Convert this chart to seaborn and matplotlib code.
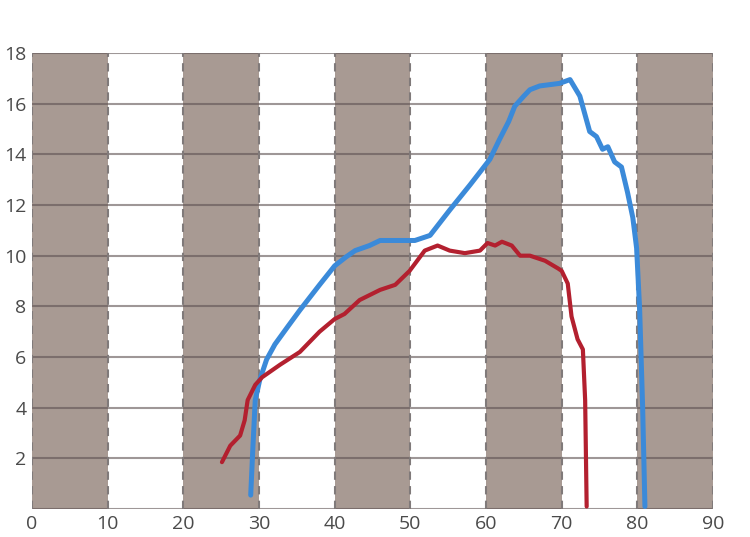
import numpy as np
import pandas as pd
import matplotlib
matplotlib.use("Agg")
import matplotlib.pyplot as plt
import seaborn as sns

# blue curve points
blue_x = [28.9, 29.2, 29.5, 30.1, 31.0, 32.1, 33.8, 35.4, 38.0, 40.0, 41.5, 42.7, 44.6,
          46.0, 48.0, 50.6, 52.6, 55.2, 57.9, 60.5, 61.8, 63.0, 63.8, 65.0, 65.8, 67.1, 69.7,
          71.1, 72.4, 73.7, 74.6, 75.4, 76.1, 77.0, 77.9, 78.7, 79.4, 79.9, 80.3, 80.7, 81.0]
blue_y = [0.55, 2.5, 4.3, 5.1, 5.9, 6.5, 7.2, 7.85, 8.85, 9.6, 9.95, 10.2, 10.4,
          10.6, 10.6, 10.6, 10.8, 11.8, 12.8, 13.8, 14.6, 15.3, 15.9, 16.3, 16.55, 16.7, 16.8,
          16.95, 16.3, 14.9, 14.7, 14.2, 14.3, 13.7, 13.5, 12.5, 11.5, 10.3, 7.9, 4.0, 0.1]

# red curve points
red_x = [25.1, 26.2, 27.5, 28.1, 28.5, 29.5, 30.4, 32.8, 35.4, 38.0, 40.0, 41.3, 43.3,
         46.0, 48.0, 49.9, 51.9, 53.6, 55.2, 57.2, 59.2, 60.2, 61.2, 62.1, 63.4, 64.5,
         65.8, 67.8, 69.5, 70.0, 70.8, 71.3, 72.1, 72.8, 73.1, 73.3]
red_y = [1.85, 2.5, 2.9, 3.5, 4.3, 4.9, 5.2, 5.7, 6.2, 7.0, 7.5, 7.7, 8.25,
         8.65, 8.85, 9.4, 10.2, 10.4, 10.2, 10.1, 10.2, 10.5, 10.4, 10.55, 10.4, 10.0,
         10.0, 9.8, 9.5, 9.4, 8.9, 7.6, 6.7, 6.3, 4.3, 0.1]

x_ticks = [0, 10, 20, 30, 40, 50, 60, 70, 80, 90]
y_ticks = [2, 4, 6, 8, 10, 12, 14, 16, 18]

df = pd.concat([
    pd.DataFrame({"x": blue_x, "y": blue_y, "series": "blue"}),
    pd.DataFrame({"x": red_x, "y": red_y, "series": "red"}),
])

sns.set_style("white")
plt.rcParams["font.family"] = ["Open Sans", "DejaVu Sans"]

fig = plt.figure(figsize=(7.5, 5.37), dpi=100)
ax = fig.add_axes([0.0427, 0.0521, 0.908, 0.8492])

# brown bands every other decade
for start in range(0, 90, 20):
    ax.axvspan(start, start + 10, color="#a89a93", lw=0, zorder=0)

for y in [0] + y_ticks:
    ax.axhline(y, color="#5e5252", lw=1.5, alpha=0.6, zorder=1)
for x in x_ticks:
    ax.axvline(x, color="#807a7a", lw=1.5, ls=(0, (4, 3)), zorder=1)

sns.lineplot(data=df, x="x", y="y", hue="series", sort=False, estimator=None,
             palette={"blue": "#3b8ad9", "red": "#b3202f"}, legend=False,
             ax=ax, zorder=3)
ax.lines[-2].set_linewidth(3.6)
ax.lines[-1].set_linewidth(3.0)
for ln in ax.lines[-2:]:
    ln.set_solid_joinstyle("round")
    ln.set_solid_capstyle("round")

ax.set_xlim(0, 90)
ax.set_ylim(0, 18)
ax.set_xticks(x_ticks)
ax.set_yticks(y_ticks)
ax.tick_params(length=0, labelsize=14, labelcolor="#4a4a4a", pad=4)
ax.set_xlabel("")
ax.set_ylabel("")
for s in ax.spines.values():
    s.set_visible(False)

fig.savefig("out.png", dpi=100)
